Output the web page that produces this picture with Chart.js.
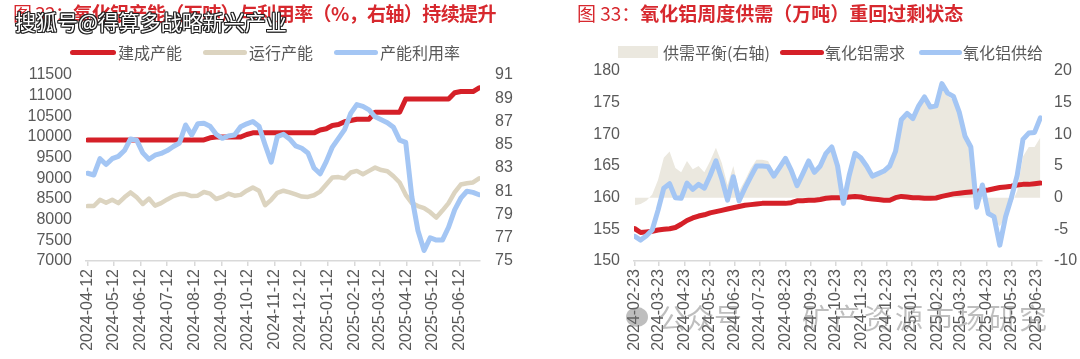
<!DOCTYPE html>
<html><head><meta charset="utf-8">
<script src="https://cdn.jsdelivr.net/npm/chart.js@4.4.1/dist/chart.umd.min.js"></script>
<style>
html,body{margin:0;padding:0;background:#fff;width:1080px;height:359px;overflow:hidden;font-family:"Liberation Sans","Noto Sans CJK SC",sans-serif;}
.wrap{position:absolute;top:0;width:540px;height:359px;}
canvas{position:absolute;left:0;top:0;}
.title{position:absolute;top:1px;font-size:19px;line-height:24px;font-weight:bold;color:#d7282e;white-space:nowrap;font-family:"Noto Sans CJK SC",sans-serif;}
.title span{font-weight:normal;}
.li{position:absolute;top:42px;line-height:20px;font-size:16px;color:#595959;white-space:nowrap;font-family:"Noto Sans CJK SC",sans-serif;}
.sw{position:absolute;top:50px;height:5px;border-radius:2.5px;}
.wm{position:absolute;left:15px;top:7px;font-size:21px;line-height:28px;color:#fff;white-space:nowrap;font-family:"Noto Sans CJK SC",sans-serif;
 text-shadow:-1px -1px 0 #222,1px -1px 0 #222,-1px 1px 0 #222,1px 1px 0 #222,0 1px 0 #222,0 -1px 0 #222,1px 0 0 #222,-1px 0 0 #222;}
.wm2{position:absolute;top:300px;font-size:28px;line-height:34px;color:rgba(110,110,110,0.45);white-space:nowrap;font-family:"Noto Sans CJK SC",sans-serif;}
</style>
</head><body>
<div class="wrap" style="left:0">
  <canvas id="cL" width="540" height="359"></canvas>
  <div class="title" style="left:13px;letter-spacing:-0.6px"><span>图 32：</span>氧化铝产能（万吨）与利用率（%，右轴）持续提升</div>
  <div class="sw" style="left:70px;width:46px;background:#d52028"></div><div class="li" style="left:118px">建成产能</div>
  <div class="sw" style="left:203px;width:44px;background:#dcd4c0"></div><div class="li" style="left:249px">运行产能</div>
  <div class="sw" style="left:334px;width:44px;background:#a4c6f4"></div><div class="li" style="left:380px">产能利用率</div>
  <div class="wm">搜狐号@得算多战略新兴产业</div>
</div>
<div class="wrap" style="left:540px">
  <canvas id="cR" width="540" height="359"></canvas>
  <div class="title" style="left:37px"><span>图 33：</span>氧化铝周度供需（万吨）重回过剩状态</div>
  <div style="position:absolute;left:78px;top:46px;width:40px;height:12px;background:#ebe8df"></div><div class="li" style="left:123px">供需平衡(右轴)</div>
  <div class="sw" style="left:240px;width:44px;background:#d52028"></div><div class="li" style="left:285px">氧化铝需求</div>
  <div class="sw" style="left:379px;width:43px;background:#a4c6f4"></div><div class="li" style="left:423px">氧化铝供给</div>
  <div style="position:absolute;left:86px;top:307px;width:22px;height:20px;border-radius:50%;background:rgba(110,110,110,0.45)"></div>
  <div class="wm2" style="left:118px">公众号</div>
  <div class="wm2" style="left:262px;letter-spacing:3px">矿产资源市场研究</div>
</div>
<script>
// ---------- Left chart data ----------
const leftDates = ["2024-04-12","2024-04-19","2024-04-26","2024-05-03","2024-05-10","2024-05-17","2024-05-24","2024-05-31","2024-06-07","2024-06-14","2024-06-21","2024-06-28","2024-07-05","2024-07-12","2024-07-19","2024-07-26","2024-08-02","2024-08-09","2024-08-16","2024-08-23","2024-08-30","2024-09-06","2024-09-13","2024-09-20","2024-09-27","2024-10-04","2024-10-11","2024-10-18","2024-10-25","2024-11-01","2024-11-08","2024-11-15","2024-11-22","2024-11-29","2024-12-06","2024-12-13","2024-12-20","2024-12-27","2025-01-03","2025-01-10","2025-01-17","2025-01-24","2025-01-31","2025-02-07","2025-02-14","2025-02-21","2025-02-28","2025-03-07","2025-03-14","2025-03-21","2025-03-28","2025-04-04","2025-04-11","2025-04-18","2025-04-25","2025-05-02","2025-05-09","2025-05-16","2025-05-23","2025-05-30","2025-06-06","2025-06-13","2025-06-20","2025-06-27","2025-07-04"];
const builtCap = [9930,9930,9930,9930,9930,9930,9930,9930,9930,9930,9930,9930,9930,9930,9930,9930,9930,9930,9930,9930,9980,10000,10000,10000,10000,10000,10060,10100,10100,10100,10100,10100,10100,10100,10100,10100,10100,10100,10170,10200,10280,10300,10370,10400,10430,10430,10430,10600,10600,10600,10600,10600,10920,10920,10920,10920,10920,10920,10920,10920,11070,11100,11100,11100,11190];
const runCap = [8330,8330,8480,8410,8480,8400,8540,8660,8540,8380,8510,8340,8400,8490,8570,8620,8620,8570,8580,8670,8630,8500,8550,8630,8580,8600,8700,8780,8700,8350,8480,8650,8700,8660,8610,8560,8550,8590,8680,8850,9020,9030,9000,9140,9180,9100,9180,9260,9200,9170,9050,8900,8600,8400,8330,8280,8180,8050,8220,8400,8660,8850,8880,8900,9000];
const utilRate = [82.55,82.4,83.8,83.3,83.8,84.0,84.5,85.5,85.4,84.3,83.75,84.1,84.25,84.5,84.85,85.15,86.7,85.84,86.8,86.85,86.6,85.9,85.55,85.75,85.84,86.55,86.8,87.0,86.6,85.0,83.5,85.7,85.9,85.5,84.9,84.7,84.3,83.0,82.5,83.55,84.8,85.55,86.3,87.7,88.45,88.3,88.0,87.4,87.15,86.9,86.5,85.4,85.2,80.5,77.6,75.9,77.0,76.8,76.8,77.9,79.4,80.4,81.0,80.9,80.7];
const leftTicks = ["2024-04-12","2024-05-12","2024-06-12","2024-07-12","2024-08-12","2024-09-12","2024-10-12","2024-11-12","2024-12-12","2025-01-12","2025-02-12","2025-03-12","2025-04-12","2025-05-12","2025-06-12"];

// ---------- Right chart data ----------
const rightDates = ["2024-02-23","2024-03-01","2024-03-08","2024-03-15","2024-03-22","2024-03-29","2024-04-05","2024-04-12","2024-04-19","2024-04-26","2024-05-03","2024-05-10","2024-05-17","2024-05-24","2024-05-31","2024-06-07","2024-06-14","2024-06-21","2024-06-28","2024-07-05","2024-07-12","2024-07-19","2024-07-26","2024-08-02","2024-08-09","2024-08-16","2024-08-23","2024-08-30","2024-09-06","2024-09-13","2024-09-20","2024-09-27","2024-10-04","2024-10-11","2024-10-18","2024-10-25","2024-11-01","2024-11-08","2024-11-15","2024-11-22","2024-11-29","2024-12-06","2024-12-13","2024-12-20","2024-12-27","2025-01-03","2025-01-10","2025-01-17","2025-01-24","2025-01-31","2025-02-07","2025-02-14","2025-02-21","2025-02-28","2025-03-07","2025-03-14","2025-03-21","2025-03-28","2025-04-04","2025-04-11","2025-04-18","2025-04-25","2025-05-02","2025-05-09","2025-05-16","2025-05-23","2025-05-30","2025-06-06","2025-06-13","2025-06-20","2025-06-27"];
const balance = [-1.2,-1.0,-0.5,0.5,2.8,6.3,7.3,4.7,4.0,5.8,4.5,5.0,4.0,5.8,7.9,5.5,2.0,5.0,1.0,2.7,4.6,6.0,6.0,5.8,4.0,5.3,6.2,4.5,2.4,4.3,5.8,4.5,5.3,7.0,8.0,5.0,-0.8,3.5,6.8,6.0,5.1,3.6,4.0,4.5,5.4,7.3,12.1,13.2,12.5,14.5,16.0,14.4,14.5,17.8,16.1,15.4,12.8,8.9,7.5,-1.5,0.0,-2.5,-3.5,-4.5,-3.0,-1.0,1.0,6.5,8.0,8.0,9.5];
const demand = [155.1,154.5,154.6,154.7,154.9,155.0,155.1,155.3,155.8,156.4,156.8,157.1,157.3,157.6,157.8,158.0,158.2,158.4,158.6,158.8,158.9,159.0,159.1,159.1,159.1,159.1,159.1,159.2,159.5,159.5,159.6,159.6,159.7,159.9,160.0,160.0,160.0,160.1,160.2,160.1,159.9,159.8,159.7,159.6,159.6,160.0,160.2,160.1,160.0,160.0,159.9,159.9,159.95,160.2,160.4,160.6,160.7,160.8,160.9,161.0,161.1,161.2,161.4,161.6,161.7,161.8,162.0,162.1,162.1,162.2,162.3];
const supply = [153.9,153.3,154.0,154.9,158.0,161.5,162.2,160.0,159.9,162.3,161.3,162.1,161.5,163.5,165.8,163.0,159.6,163.3,159.5,161.5,163.3,165.0,165.0,164.9,163.4,164.8,166.2,164.3,161.9,163.8,165.8,164.0,165.0,167.0,168.0,165.0,159.1,163.5,167.0,166.3,165.0,163.4,163.8,164.2,165.0,167.3,172.3,173.3,172.5,174.5,175.9,174.3,174.5,178.0,176.5,176.0,173.5,169.7,168.0,158.5,162.0,157.5,157.0,152.5,157.0,160.0,163.5,169.2,170.2,170.3,172.6];
const rightTicks = ["2024-02-23","2024-03-23","2024-04-23","2024-05-23","2024-06-23","2024-07-23","2024-08-23","2024-09-23","2024-10-23","2024-11-23","2024-12-23","2025-01-23","2025-02-23","2025-03-23","2025-04-23","2025-05-23","2025-06-23"];

// ---------- helpers ----------
function dayNum(s, base){ const p = s.split('-').map(Number); return (Date.UTC(p[0],p[1]-1,p[2]) - base)/864e5; }
function pts(dates, vals, base){ return dates.map((d,i)=>({x:dayNum(d,base), y:vals[i]})); }
const TICKC = '#595959';
const FONT = {size:16, family:'"Liberation Sans", Arial, sans-serif'};
const AXC = '#d9d9d9';
const RED='#d52028', BEIGE='#dcd4c0', BLUE='#a4c6f4', AREA='#ebe8df';

function xScale(ticksArr, base, min, max){
  return {
    type:'linear', min:min, max:max,
    afterBuildTicks: s => { s.ticks = ticksArr.map(t => ({value: dayNum(t, base)})); },
    afterFit: s => { s.height = 98; },
    ticks:{autoSkip:false, maxRotation:90, minRotation:90, padding:3, color:TICKC, font:FONT,
      callback:(v,i)=> ticksArr[i]},
    grid:{drawOnChartArea:false, drawTicks:true, tickLength:5, color:AXC, lineWidth:1.5},
    border:{display:true, color:AXC, width:1.5}
  };
}
function yScale(pos, min, max, step, w, pad){
  return {
    position:pos, min:min, max:max,
    afterFit: s => { s.width = w; },
    ticks:{stepSize:step, autoSkip:false, padding:pad, color:TICKC, font:FONT, callback:v=>String(v)},
    grid:{display:false, drawTicks:false},
    border:{display:false}
  };
}
const common = {
  responsive:false, animation:false,
  elements:{point:{radius:0}, line:{tension:0, borderJoinStyle:'round', borderCapStyle:'round'}},
  plugins:{legend:{display:false}, tooltip:{enabled:false}}
};

// ---------- Left chart ----------
const baseL = Date.UTC(2024,3,12);
new Chart(document.getElementById('cL'), {
  type:'line',
  data:{datasets:[
    {label:'建成产能', data:pts(leftDates,builtCap,baseL), borderColor:RED, borderWidth:5, yAxisID:'y', order:2},
    {label:'运行产能', data:pts(leftDates,runCap,baseL), borderColor:BEIGE, borderWidth:4.5, yAxisID:'y', order:1},
    {label:'产能利用率', data:pts(leftDates,utilRate,baseL), borderColor:BLUE, borderWidth:5, yAxisID:'y1', order:0}
  ]},
  options:Object.assign({}, common, {
    layout:{padding:{top:75,left:0,right:0,bottom:0}},
    scales:{
      x:xScale(leftTicks, baseL, -2, 449),
      y:yScale('left', 7000, 11500, 500, 86, 14),
      y1:yScale('right', 75, 91, 2, 60, 15)
    }
  })
});

// ---------- Right chart ----------
const baseR = Date.UTC(2024,1,23);
new Chart(document.getElementById('cR'), {
  type:'line',
  data:{datasets:[
    {label:'供需平衡(右轴)', data:pts(rightDates,balance,baseR), borderColor:AREA, backgroundColor:AREA, borderWidth:0, fill:'origin', yAxisID:'y1', order:3},
    {label:'氧化铝需求', data:pts(rightDates,demand,baseR), borderColor:RED, borderWidth:5, yAxisID:'y', order:1},
    {label:'氧化铝供给', data:pts(rightDates,supply,baseR), borderColor:BLUE, borderWidth:5, yAxisID:'y', order:0}
  ]},
  options:Object.assign({}, common, {
    layout:{padding:{top:71,left:0,right:0,bottom:0}},
    scales:{
      x:xScale(rightTicks, baseR, -1, 492),
      y:yScale('left', 150, 180, 5, 94, 14),
      y1:yScale('right', -10, 20, 5, 38, 12)
    }
  })
});
</script>
</body></html>
